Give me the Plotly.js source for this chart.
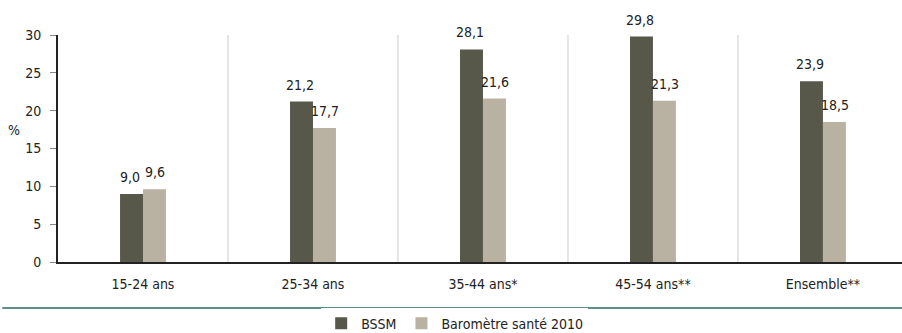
<!DOCTYPE html>
<html>
<head>
<meta charset="utf-8">
<script src="https://cdn.plot.ly/plotly-3.0.1.min.js"></script>
<style>html,body{margin:0;padding:0;background:#fff;overflow:hidden}#chart{width:902px;height:333px}</style>
</head>
<body>
<div id="chart"></div>
<script>
const categories = ["15-24 ans", "25-34 ans", "35-44 ans*", "45-54 ans**", "Ensemble**"];
const bssm = [9.0, 21.2, 28.1, 29.8, 23.9];
const barometre = [9.6, 17.7, 21.6, 21.3, 18.5];
const seriesNames = ["BSSM", "Baromètre santé 2010"];
const yTicks = [0, 5, 10, 15, 20, 25, 30];

const FONT = '"DejaVu Sans Condensed", "Liberation Sans Narrow", "DejaVu Sans", sans-serif';
const darkColor = '#57574a';
const lightColor = '#b9b1a1';
const fmt = v => v.toFixed(1).replace('.', ',');

const traces = [
  {type: 'bar', name: seriesNames[0], x: categories, y: bssm, marker: {color: darkColor}, hoverinfo: 'none'},
  {type: 'bar', name: seriesNames[1], x: categories, y: barometre, marker: {color: lightColor}, hoverinfo: 'none'}
];

const annotations = [];
categories.forEach((c, i) => {
  annotations.push({x: c, y: bssm[i], text: fmt(bssm[i]), showarrow: false, xanchor: 'center', yanchor: 'bottom', xshift: -13, yshift: 7, font: {family: FONT, size: 14, color: '#222'}});
  annotations.push({x: c, y: barometre[i], text: fmt(barometre[i]), showarrow: false, xanchor: 'center', yanchor: 'bottom', xshift: 12, yshift: 7, font: {family: FONT, size: 14, color: '#222'}});
});
annotations.push({xref: 'paper', yref: 'paper', x: -0.052, y: 0.58, xanchor: 'center', yanchor: 'middle', text: '%', showarrow: false, font: {family: FONT, size: 14, color: '#222'}});

const shapes = [];
for (let i = 0; i < categories.length - 1; i++) {
  shapes.push({type: 'line', xref: 'x', yref: 'y', x0: i + 0.5, x1: i + 0.5, y0: 0, y1: 30, line: {color: '#cccccc', width: 1}});
}
shapes.push({type: 'line', xref: 'paper', yref: 'paper', x0: -0.066, x1: 1, y0: -0.203, y1: -0.203, line: {color: '#5e8f86', width: 2}});

const layout = {
  width: 902, height: 333,
  margin: {l: 58, r: 0, t: 35, b: 71, autoexpand: false},
  paper_bgcolor: '#fff', plot_bgcolor: '#fff',
  font: {family: FONT, size: 14, color: '#222'},
  barmode: 'group', bargap: 0.73, bargroupgap: 0,
  showlegend: true,
  legend: {orientation: 'h', x: 0.47, y: -0.272, xanchor: 'center', yanchor: 'middle', font: {family: FONT, size: 14, color: '#222'}, itemwidth: 30, tracegroupgap: 0},
  xaxis: {type: 'category', range: [-0.5, 4.465], showline: true, linecolor: '#222', linewidth: 2, ticks: '', showgrid: false, zeroline: false, ticklabelstandoff: 8, tickfont: {family: FONT, size: 14, color: '#222'}},
  yaxis: {range: [0, 30], tickvals: yTicks, ticktext: yTicks.map(String), showline: true, linecolor: '#222', linewidth: 2, ticks: 'outside', ticklen: 6, tickcolor: '#888', tickwidth: 1, showgrid: false, zeroline: false, ticklabelstandoff: 6, tickfont: {family: FONT, size: 14, color: '#222'}},
  annotations: annotations,
  shapes: shapes
};

Plotly.newPlot('chart', traces, layout, {displayModeBar: false, staticPlot: true});
</script>
</body>
</html>
